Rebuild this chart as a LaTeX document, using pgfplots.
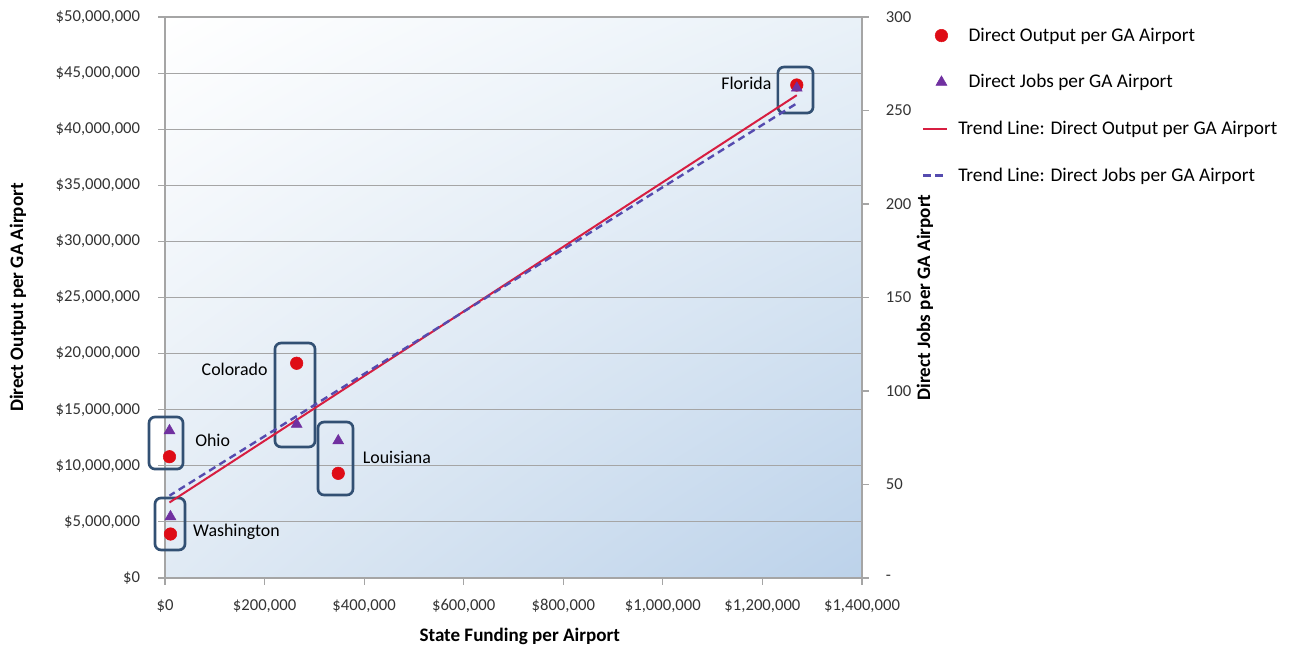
\documentclass[border=0pt]{standalone}
\usepackage{fontspec}
\setmainfont{Carlito}
\usepackage{pgfplots}
\usepackage{pgfplotstable}
\pgfplotsset{compat=1.18}
\usetikzlibrary{shadings}

\definecolor{dotred}{RGB}{222,12,22}
\definecolor{tripurple}{RGB}{112,48,160}
\definecolor{trendred}{RGB}{215,30,65}
\definecolor{trenddash}{RGB}{85,75,175}
\definecolor{boxblue}{RGB}{50,80,115}
\definecolor{gridgray}{RGB}{165,165,165}
\definecolor{bgTR}{RGB}{233,241,248}
\definecolor{bgBL}{RGB}{224,234,244}
\definecolor{bgBR}{RGB}{188,210,234}

\newcommand\tickfont{\fontsize{12.5}{14}\selectfont}
\newcommand\lblfont{\fontsize{13.4}{15}\selectfont}
\newcommand\titlefont{\fontsize{14.3}{16}\selectfont\bfseries}

% state funding, direct output and direct jobs per GA airport
\pgfplotstableread{
state      x       output    jobs
Washington 11000   3920000   32.8
Ohio       9000    10810000  78.8
Colorado   264500  19140000  82.2
Louisiana  348000  9330000   73.4
Florida    1269000 43940000  262
}\statedata

\pgfplotsset{
  mkleg/.style={legend image code/.code={
    \path[draw=none, fill=none] (0pt,-5pt) rectangle (19pt,5pt);
    \draw plot coordinates {(13.7pt,0pt)};}},
  lnleg/.style={legend image code/.code={
    \path[draw=none, fill=none] (0pt,-5pt) rectangle (19pt,5pt);
    \draw (0pt,0pt) -- (17.5pt,0pt);}},
  chartbase/.style={
    at={(0,0)}, anchor=south west,
    scale only axis, width=522.75pt, height=420.75pt,
    xmin=0, xmax=1400000,
    scaled x ticks=false, scaled y ticks=false,
    tick align=outside, major tick length=5pt,
    tick style={draw=gridgray, line width=0.8pt},
    axis line style={draw=gridgray, line width=0.8pt, -},
    tick label style={font=\tickfont, text=black!80},
    label style={font=\titlefont},
    clip=false,
  },
}

\begin{document}
\begin{tikzpicture}
\useasboundingbox (-123.75pt,-54pt) rectangle (850.5pt,433.5pt);

\begin{axis}[
  chartbase,
  ymin=0, ymax=50000000,
  axis x line*=bottom, axis y line*=left,
  axis background/.style={shade, upper left=white, upper right=bgTR,
    lower left=bgBL, lower right=bgBR},
  ymajorgrids, grid style={draw=gridgray, line width=0.8pt},
  xtick={0,200000,400000,600000,800000,1000000,1200000,1400000},
  xticklabels={{\$0},{\$200,000},{\$400,000},{\$600,000},{\$800,000},{\$1,000,000},{\$1,200,000},{\$1,400,000}},
  ytick={0,5000000,10000000,15000000,20000000,25000000,30000000,35000000,40000000,45000000,50000000},
  yticklabels={{\$0},{\$5,000,000},{\$10,000,000},{\$15,000,000},{\$20,000,000},{\$25,000,000},{\$30,000,000},{\$35,000,000},{\$40,000,000},{\$45,000,000},{\$50,000,000}},
  xticklabel style={anchor=center, inner sep=0pt, yshift=-16pt},
  yticklabel style={anchor=east, inner sep=0pt, xshift=-13.5pt},
  xlabel={State Funding per Airport},
  ylabel={Direct Output per GA Airport},
  xlabel style={at={(axis description cs:0.509,-0.105)}, anchor=center},
  ylabel style={at={(axis description cs:-0.2109,0.5)}, anchor=center},
]
% boxes round each state
\draw[boxblue, line width=2pt, rounded corners=4.5pt] (axis cs:-20100,2500000) rectangle (axis cs:40200,7130000);
\draw[boxblue, line width=2pt, rounded corners=4.5pt] (axis cs:-32100,9710000) rectangle (axis cs:36200,14350000);
\draw[boxblue, line width=2pt, rounded corners=4.5pt] (axis cs:220900,11680000) rectangle (axis cs:301300,20940000);
\draw[boxblue, line width=2pt, rounded corners=4.5pt] (axis cs:307300,7400000) rectangle (axis cs:377600,13900000);
\draw[boxblue, line width=2pt, rounded corners=4.5pt] (axis cs:1231100,41440000) rectangle (axis cs:1301700,45540000);

\node[anchor=west, inner sep=0pt, font=\lblfont] at (axis cs:56200,4100000) {Washington};
\node[anchor=west, inner sep=0pt, font=\lblfont] at (axis cs:60300,12300000) {Ohio};
\node[anchor=east, inner sep=0pt, font=\lblfont] at (axis cs:206300,18600000) {Colorado};
\node[anchor=west, inner sep=0pt, font=\lblfont] at (axis cs:397000,10760000) {Louisiana};
\node[anchor=east, inner sep=0pt, font=\lblfont] at (axis cs:1218500,44090000) {Florida};

\addplot[only marks, mark=*, mark size=4.7pt, mark options={draw=dotred, fill=dotred}]
  table[x=x, y=output] {\statedata};
\addplot[no marks, line width=1.5pt, trendred]
  table[x=x, y={create col/linear regression={x=x, y=output}}] {\statedata};
\end{axis}

\begin{axis}[
  chartbase,
  ymin=0, ymax=300,
  axis x line=none, axis y line*=right,
  ytick={0,50,100,150,200,250,300},
  yticklabels={-,50,100,150,200,250,300},
  yticklabel style={anchor=west, inner sep=0pt, xshift=12.75pt},
  ylabel={Direct Jobs per GA Airport},
  ylabel style={at={(axis description cs:1.0904,0.5)}, anchor=center},
  legend style={draw=none, fill=none, at={(1.0857,0.981)}, anchor=north west,
    inner xsep=0pt, inner ysep=0pt, font=\fontsize{14.5}{17}\selectfont,
    row sep=23.4pt, nodes={inner sep=0pt},
    /tikz/every odd column/.append style={column sep=7.3pt}},
  legend cell align=left,
]
\addlegendimage{only marks, mark=*, mark size=4.7pt, mark options={draw=dotred, fill=dotred}, mkleg}
\addlegendentry{\hspace{7.7pt}Direct Output per GA Airport}
\addplot[only marks, mark=triangle*, mark size=4.7pt, mark options={draw=tripurple, fill=tripurple}, mkleg]
  table[x=x, y=jobs] {\statedata};
\addlegendentry{\hspace{7.7pt}Direct Jobs per GA Airport}
\addlegendimage{no marks, line width=1.5pt, trendred, lnleg}
\addlegendentry{Trend Line: Direct Output per GA Airport}
\addplot[no marks, line width=1.8pt, trenddash, dash pattern=on 5.5pt off 3.5pt, lnleg]
  table[x=x, y={create col/linear regression={x=x, y=jobs}}] {\statedata};
\addlegendentry{Trend Line: Direct Jobs per GA Airport}
\end{axis}
\end{tikzpicture}
\end{document}
